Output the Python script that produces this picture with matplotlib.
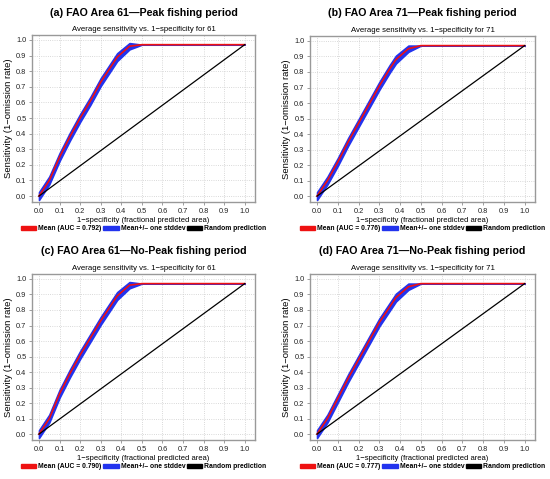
import numpy as np
import matplotlib
matplotlib.use("Agg")
import matplotlib.pyplot as plt
from matplotlib.patches import Patch

plt.rcParams['font.family'] = ['Liberation Sans', 'DejaVu Sans']

# 1-specificity sample points (shared by all panels)
fpr = [0.0, 0.05, 0.1, 0.15, 0.2, 0.25, 0.3, 0.35, 0.38, 0.44, 0.5, 1.0]

# mean sensitivity per panel
mean_a = [0.0, 0.10, 0.25, 0.38, 0.50, 0.61, 0.73, 0.83, 0.89, 0.96, 0.97, 0.97]
mean_b = [0.0, 0.10, 0.22, 0.35, 0.47, 0.59, 0.71, 0.82, 0.88, 0.95, 0.97, 0.97]
mean_c = [0.0, 0.10, 0.26, 0.39, 0.51, 0.62, 0.73, 0.83, 0.89, 0.96, 0.97, 0.97]
mean_d = [0.0, 0.10, 0.23, 0.36, 0.48, 0.60, 0.72, 0.82, 0.88, 0.95, 0.97, 0.97]

# standard deviation of sensitivity
std_a = [0.025, 0.025, 0.025, 0.025, 0.025, 0.025, 0.025, 0.025, 0.025, 0.02, 0.0, 0.0]
std_b = [0.025, 0.025, 0.025, 0.025, 0.025, 0.025, 0.025, 0.025, 0.025, 0.02, 0.0, 0.0]
std_c = [0.025, 0.025, 0.025, 0.025, 0.025, 0.025, 0.025, 0.025, 0.025, 0.02, 0.0, 0.0]
std_d = [0.025, 0.025, 0.025, 0.025, 0.025, 0.025, 0.025, 0.025, 0.025, 0.02, 0.0, 0.0]

random_x = [0.0, 1.0]
random_y = [0.0, 0.97]

titles = ["(a) FAO Area 61\u2014Peak fishing period",
          "(b) FAO Area 71\u2014Peak fishing period",
          "(c) FAO Area 61\u2014No-Peak fishing period",
          "(d) FAO Area 71\u2014No-Peak fishing period"]
areas = ["61", "71", "61", "71"]
aucs = ["0.792", "0.776", "0.790", "0.777"]
means = [mean_a, mean_b, mean_c, mean_d]
stds = [std_a, std_b, std_c, std_d]

W, H = 550, 479
fig = plt.figure(figsize=(W / 100, H / 100), dpi=100)

# axes frame boxes in pixels: left, top, right, bottom
boxes = [(32, 35, 255, 202), (310, 36, 535, 202),
         (32, 274, 255, 440), (310, 274, 535, 440)]
title_y = [13, 13, 251, 251]

ticks = np.round(np.arange(0, 1.01, 0.1), 1)
blue = "#2233ee"
red = "#ee1111"

for i in range(4):
    l, t, r, b = boxes[i]
    ax = fig.add_axes([l / W, 1 - b / H, (r - l) / W, (b - t) / H])
    x = np.array(fpr)
    m = np.array(means[i])
    s = np.array(stds[i])
    ax.fill_between(x, m - s, m + s, color=blue, lw=1.2, edgecolor=blue, zorder=2)
    ax.plot(x, m, color=red, lw=1.2, zorder=3)
    ax.plot(random_x, random_y, color="black", lw=0.9, zorder=3)

    ax.set_xlim(-0.034, 1.05)
    ax.set_ylim(-0.038, 1.032)
    ax.set_xticks(ticks)
    ax.set_yticks(ticks)
    ax.set_xticklabels([f"{v:.1f}" for v in ticks])
    ax.set_yticklabels([f"{v:.1f}" for v in ticks])
    ax.tick_params(labelsize=5.3, length=2, width=0.5, color="#777777",
                   labelcolor="#222222", pad=2)
    ax.grid(True, color="#cccccc", linestyle=":", linewidth=0.6, zorder=0)
    for sp in ax.spines.values():
        sp.set_color("#999999")
        sp.set_linewidth(1.0)

    ax.set_title(f"Average sensitivity vs. 1\u2212specificity for {areas[i]}",
                 fontsize=5.6, pad=3)
    ax.set_xlabel("1\u2212specificity (fractional predicted area)", fontsize=5.5, labelpad=2)
    ax.set_ylabel("Sensitivity (1\u2212omission rate)", fontsize=6.8, labelpad=2)

    cx = (l + r) / 2
    fig.text(cx / W, 1 - title_y[i] / H, titles[i], ha="center", va="center",
             fontsize=7.7, fontweight="bold")

    handles = [Patch(color=red), Patch(color=blue), Patch(color="black")]
    labels = [f"Mean (AUC = {aucs[i]})", "Mean+/\u2013 one stddev", "Random prediction"]
    leg_y = 1 - (b + 27) / H
    fig.legend(handles, labels, loc="center", bbox_to_anchor=(cx / W, leg_y),
               ncol=3, frameon=False, prop={"size": 4.9, "weight": "bold"},
               handlelength=2.3, handleheight=0.6, handletextpad=0.3,
               columnspacing=0.2, borderaxespad=0, borderpad=0)

fig.savefig("out.png", dpi=100)
